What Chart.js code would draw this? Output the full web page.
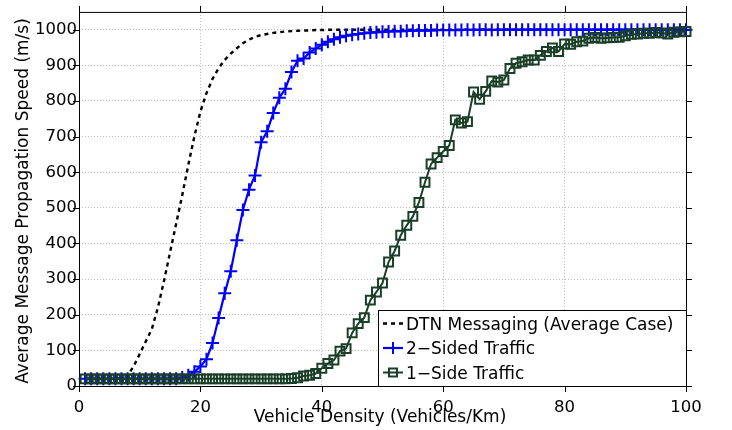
<!DOCTYPE html>
<html>
<head>
<meta charset="utf-8">
<script src="https://cdn.jsdelivr.net/npm/chart.js@4.4.1/dist/chart.umd.min.js"></script>
<style>
  html, body { margin: 0; padding: 0; background: #fff; }
  #wrap { width: 732px; height: 430px; }
</style>
</head>
<body>
<div id="wrap"><canvas id="chart" width="732" height="430"></canvas></div>
<script>
// Vehicle density (Vehicles/Km), one sample per unit
const density = [
  1, 2, 3, 4, 5, 6, 7, 8, 9, 10,
  11, 12, 13, 14, 15, 16, 17, 18, 19, 20,
  21, 22, 23, 24, 25, 26, 27, 28, 29, 30,
  31, 32, 33, 34, 35, 36, 37, 38, 39, 40,
  41, 42, 43, 44, 45, 46, 47, 48, 49, 50,
  51, 52, 53, 54, 55, 56, 57, 58, 59, 60,
  61, 62, 63, 64, 65, 66, 67, 68, 69, 70,
  71, 72, 73, 74, 75, 76, 77, 78, 79, 80,
  81, 82, 83, 84, 85, 86, 87, 88, 89, 90,
  91, 92, 93, 94, 95, 96, 97, 98, 99, 100
];

// DTN Messaging (Average Case)
const dtnSpeed = [
  20, 20, 20, 20, 20, 20, 22, 30, 55, 90,
  125, 160, 220, 295, 375, 455, 535, 620, 700, 770,
  822, 862, 892, 915, 933, 948, 962, 972, 980, 985,
  988, 991, 993, 995, 996, 997, 998, 998, 999, 999,
  1000, 1000, 1000, 1000, 1000, 1000, 1000, 1000, 1000, 1000,
  1000, 1000, 1000, 1000, 1000, 1000, 1000, 1000, 1000, 1000,
  1000, 1000, 1000, 1000, 1000, 1000, 1000, 1000, 1000, 1000,
  1000, 1000, 1000, 1000, 1000, 1000, 1000, 1000, 1000, 1000,
  1000, 1000, 1000, 1000, 1000, 1000, 1000, 1000, 1000, 1000,
  1000, 1000, 1000, 1000, 1000, 1000, 1000, 1000, 1000, 1000
];

// 2-Sided Traffic
const twoSidedSpeed = [
  20, 20, 20, 20, 20, 20, 20, 20, 20, 20,
  20, 20, 20, 20, 20, 20, 24, 30, 40, 55,
  75, 121, 191, 260, 322, 409, 494, 551, 591, 684,
  715, 766, 809, 834, 881, 913, 919, 936, 947, 958,
  966, 973, 979, 983, 986, 988, 990, 992, 993, 994,
  995, 996, 996, 997, 997, 998, 998, 998, 999, 999,
  999, 999, 999, 1000, 999, 1000, 1000, 999, 1000, 1000,
  1000, 1000, 1000, 1000, 1000, 1000, 1000, 1000, 1000, 1000,
  1000, 1000, 1000, 1000, 1000, 1000, 1000, 1000, 1000, 1000,
  1000, 1000, 1000, 1000, 1000, 1000, 1000, 1000, 1000, 1000
];

// 1-Side Traffic
const oneSideSpeed = [
  20, 20, 20, 20, 20, 20, 20, 20, 20, 20,
  20, 20, 20, 20, 20, 20, 20, 20, 20, 20,
  20, 20, 20, 20, 20, 20, 20, 20, 20, 20,
  20, 20, 20, 20, 21, 23, 28, 30, 35, 50,
  63, 73, 98, 105, 149, 175, 192, 241, 264, 289,
  348, 379, 423, 451, 476, 515, 572, 623, 641, 658,
  675, 747, 738, 742, 825, 805, 827, 856, 853, 859,
  891, 906, 910, 915, 915, 928, 939, 949, 939, 960,
  959, 966, 968, 976, 978, 976, 977, 978, 979, 983,
  987, 988, 990, 990, 992, 991, 988, 993, 994, 995
];

const seriesLabels = ['DTN Messaging (Average Case)', '2\u2212Sided Traffic', '1\u2212Side Traffic'];
const xTicks = [0, 20, 40, 60, 80, 100];
const yTicks = [0, 100, 200, 300, 400, 500, 600, 700, 800, 900, 1000];
const xTitle = 'Vehicle Density (Vehicles/Km)';
const yTitle = 'Average Message Propagation Speed (m/s)';

const FONT = "'DejaVu Sans', 'Liberation Sans', sans-serif";
const GREEN = '#1a3f28';
const BLUE = '#0000ff';

const pts = arr => density.map((d, i) => ({ x: d, y: arr[i] }));

// box with outward ticks on all four sides, like the original figure
const framePlugin = {
  id: 'frame',
  beforeDatasetsDraw(chart) {
    const { ctx, chartArea: a, scales: { x, y } } = chart;
    ctx.save();
    ctx.strokeStyle = '#000';
    ctx.lineWidth = 1;
    ctx.setLineDash([]);
    ctx.strokeRect(a.left + 0.5, a.top + 0.5, a.right - a.left, a.bottom - a.top);
    ctx.beginPath();
    for (const t of x.ticks) {
      const px = Math.round(x.getPixelForValue(t.value)) + 0.5;
      ctx.moveTo(px, a.bottom); ctx.lineTo(px, a.bottom + 6);
      ctx.moveTo(px, a.top); ctx.lineTo(px, a.top - 6);
    }
    for (const t of y.ticks) {
      const py = Math.round(y.getPixelForValue(t.value)) + 0.5;
      ctx.moveTo(a.left, py); ctx.lineTo(a.left - 6, py);
      ctx.moveTo(a.right, py); ctx.lineTo(a.right + 6, py);
    }
    ctx.stroke();
    ctx.restore();
  }
};

// axis titles + legend box in the lower right corner
const overlayPlugin = {
  id: 'overlay',
  afterDraw(chart) {
    const { ctx, chartArea: a } = chart;
    const ds = chart.data.datasets;
    ctx.save();
    ctx.fillStyle = '#000';
    ctx.font = '17px ' + FONT;

    ctx.textAlign = 'center';
    ctx.textBaseline = 'alphabetic';
    ctx.fillText(xTitle, 380, 422);

    ctx.save();
    ctx.translate(28, 201);
    ctx.rotate(-Math.PI / 2);
    ctx.fillText(yTitle, 0, 0);
    ctx.restore();

    // legend
    const bx = 378, by = 310, bw = a.right - bx, bh = a.bottom - by;
    ctx.fillStyle = '#fff';
    ctx.fillRect(bx, by, bw, bh);
    ctx.strokeStyle = '#000';
    ctx.lineWidth = 1;
    ctx.strokeRect(bx + 0.5, by + 0.5, bw, bh);

    const rows = [323.5, 348, 372.5];
    const x1 = 383, x2 = 403, xm = 393;
    rows.forEach((ry, i) => {
      const d = ds[i];
      ctx.strokeStyle = d.borderColor;
      ctx.lineWidth = d.borderWidth;
      ctx.setLineDash(d.borderDash || []);
      ctx.beginPath();
      ctx.moveTo(x1, ry); ctx.lineTo(x2, ry);
      ctx.stroke();
      ctx.setLineDash([]);
      if (d.pointStyle === 'cross') {
        ctx.lineWidth = d.pointBorderWidth;
        ctx.beginPath();
        ctx.moveTo(xm - 6, ry); ctx.lineTo(xm + 6, ry);
        ctx.moveTo(xm, ry - 6); ctx.lineTo(xm, ry + 6);
        ctx.stroke();
      } else if (d.pointStyle === 'rect') {
        ctx.lineWidth = d.pointBorderWidth;
        ctx.strokeRect(xm - 4, ry - 4, 8, 8);
      }
      ctx.fillStyle = '#000';
      ctx.textAlign = 'left';
      ctx.fillText(d.label, 406, ry + 6);
    });
    ctx.restore();
  }
};

new Chart(document.getElementById('chart'), {
  type: 'line',
  data: {
    datasets: [
      {
        label: seriesLabels[0],
        data: pts(dtnSpeed),
        borderColor: '#000',
        borderWidth: 2.4,
        borderDash: [4, 4],
        pointRadius: 0,
        tension: 0,
        clip: false,
        order: 3
      },
      {
        label: seriesLabels[1],
        data: pts(twoSidedSpeed),
        borderColor: BLUE,
        borderWidth: 2.2,
        pointStyle: 'cross',
        pointRadius: 6.5,
        pointBorderWidth: 2,
        pointBorderColor: BLUE,
        tension: 0,
        clip: false,
        order: 2
      },
      {
        label: seriesLabels[2],
        data: pts(oneSideSpeed),
        borderColor: GREEN,
        borderWidth: 2,
        pointStyle: 'rect',
        pointRadius: 6.3,
        pointBorderWidth: 2,
        pointBorderColor: GREEN,
        pointBackgroundColor: 'rgba(0,0,0,0)',
        tension: 0,
        clip: false,
        order: 1
      }
    ]
  },
  options: {
    responsive: false,
    animation: false,
    layout: { padding: { left: 0, top: 11, right: 46, bottom: 0 } },
    plugins: {
      legend: { display: false },
      tooltip: { enabled: false }
    },
    scales: {
      x: {
        type: 'linear',
        min: 0,
        max: 100,
        afterFit: s => { s.height = 44; },
        afterBuildTicks: s => { s.ticks = xTicks.map(v => ({ value: v })); },
        grid: { color: '#bdbdbd', lineWidth: 1, drawTicks: false },
        border: { display: false, dash: [1, 2] },
        ticks: {
          color: '#000',
          padding: 12,
          maxRotation: 0,
          font: { family: FONT, size: 16.5 },
          callback: v => String(v)
        }
      },
      y: {
        type: 'linear',
        min: 0,
        max: 1050,
        afterFit: s => { s.width = 79; },
        afterBuildTicks: s => { s.ticks = yTicks.map(v => ({ value: v })); },
        grid: { color: '#bdbdbd', lineWidth: 1, drawTicks: false },
        border: { display: false, dash: [1, 2] },
        ticks: {
          color: '#000',
          padding: 2,
          font: { family: FONT, size: 16.5 },
          callback: v => String(v)
        }
      }
    }
  },
  plugins: [framePlugin, overlayPlugin]
});
</script>
</body>
</html>
